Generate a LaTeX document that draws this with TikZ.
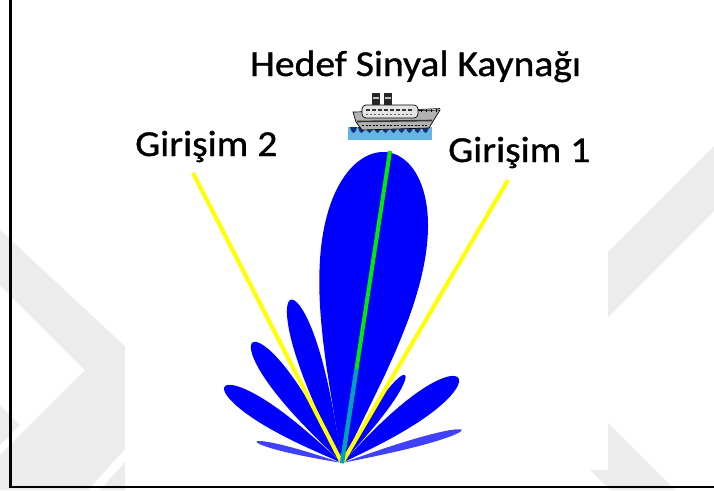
\documentclass[tikz,border=0pt]{standalone}
\usepackage{fontspec}
\setmainfont{Carlito}[FakeStretch=1.085,FakeBold=1]
\usetikzlibrary{calc}
\definecolor{beam}{RGB}{0,0,255}
\definecolor{wmark}{RGB}{236,236,236}
\definecolor{ray}{RGB}{255,255,0}
\definecolor{look}{RGB}{0,235,0}
\definecolor{lookdeep}{RGB}{0,160,190}
\definecolor{sea}{RGB}{100,180,230}
\definecolor{seadark}{RGB}{20,50,120}
\begin{document}
\begin{tikzpicture}[x=1pt,y=-1pt,
  caption/.style={font=\fontsize{36.5}{40}\selectfont, inner sep=0pt, anchor=base west},
  lobe/.style={fill=beam},
  faintlobe/.style={fill=beam!75},
  interf/.style={draw=ray, line width=4pt},
  steer/.style={draw=look, line width=4pt},
  frameline/.style={draw=black, line width=2.5pt}]
\useasboundingbox (0,0) rectangle (714,490);
\fill[white] (0,0) rectangle (714,490);

% background chevrons
\fill[wmark] (175,393) -- (0,230) -- (0,285) -- (85,370) -- (0,455) -- (0,490) -- (88,490) -- cycle;
\fill[wmark] (0,405) -- (20,425) -- (0,445) -- cycle;
\fill[wmark] (125,462) -- (125,490) -- (100,490) -- cycle;
\fill[wmark] (490,370) -- (714,146) -- (714,211) -- (555,370) -- (675,490) -- (610,490) -- cycle;

% white panel behind the pattern
\fill[white] (125,0) rectangle (608,470);

% frame
\draw[frameline] (10.5,0) -- (10.5,487) -- (714,487);

% array origin and look directions
\coordinate (src) at (342,463);
\coordinate (tgt) at (390,151);
\coordinate (j2) at (193,173);
\coordinate (j1) at (508,180);

% beam pattern lobes: direction, length, angular width (deg), shape exponent
\begin{scope}[shift={(src)}, yscale=-1]
  \foreach \a/\L/\w/\p/\s in {81.6/314/36/0.35/lobe, 107.4/171/17/0.5/lobe,
                             126.6/150/19/0.5/lobe, 147/140/19/0.5/lobe,
                             166/88/8.4/0.5/faintlobe, 54.4/108/13.5/0.5/lobe,
                             36.2/144/21/0.5/lobe, 15.4/124/8/0.5/faintlobe}{
    \pgfmathsetmacro\h{\w/2}
    \fill[\s] (0,0) -- plot[domain=-\h:\h, samples=90, variable=\t]
      ({\a+\t}:{\L*pow(max(cos(180*\t/\w),0.00001),\p)}) -- cycle;
  }
\end{scope}

% interference and target directions
\draw[interf] (src) -- (j2);
\draw[interf] (src) -- (j1);
\draw[steer] (src) -- (tgt);
\draw[draw=lookdeep, line width=4pt] (src) -- ($(src)!0.3!(tgt)$);

% labels
\node[caption] (title) at (250,76) {Hedef Sinyal Kaynağı};
\node[caption] (g2) at (135,156) {Girişim 2};
\node[caption] (g1) at (448,162) {Girişim 1};

% ship
\begin{scope}
  \fill[sea] (348,127) rectangle (432,140);
  \foreach \x in {350,358,366,374,382,390,398,406,414,422}
    \fill[seadark] (\x,127) .. controls (\x+2,135) and (\x+5,135) .. (\x+7,127) -- cycle;
  \filldraw[fill=gray!60, draw=black, line width=0.7pt]
    (353,112) -- (440,110) -- (435,118) -- (429,128) -- (362,130) -- (356,122) -- cycle;
  \draw[black!80, line width=1.6pt] (357,121.5) -- (432,120.5);
  \draw[black, line width=1pt, dash pattern=on 2pt off 1.5pt] (362,125.5) -- (428,125.5);
  \filldraw[fill=gray!20, draw=black, line width=0.7pt, rounded corners=4pt]
    (362,105) rectangle (418,118);
  \draw[black!80, line width=1.6pt, dash pattern=on 4pt off 2pt] (366,110) -- (414,110);
  \draw[black!60, line width=0.8pt, dash pattern=on 2pt off 2pt] (366,114.5) -- (414,114.5);
  \fill[black!85] (372,93) rectangle (380,105);
  \fill[black!85] (384,93) rectangle (392,105);
  \fill[gray!50] (373,96.5) rectangle (379,98.5);
  \fill[gray!50] (385,96.5) rectangle (391,98.5);
  \draw[black, line width=0.6pt] (418,109.5) -- (440,108.5);
  \foreach \x in {421,426,431,436}
    \draw[black, line width=0.6pt] (\x,109) -- (\x,111.5);
\end{scope}
\end{tikzpicture}
\end{document}
